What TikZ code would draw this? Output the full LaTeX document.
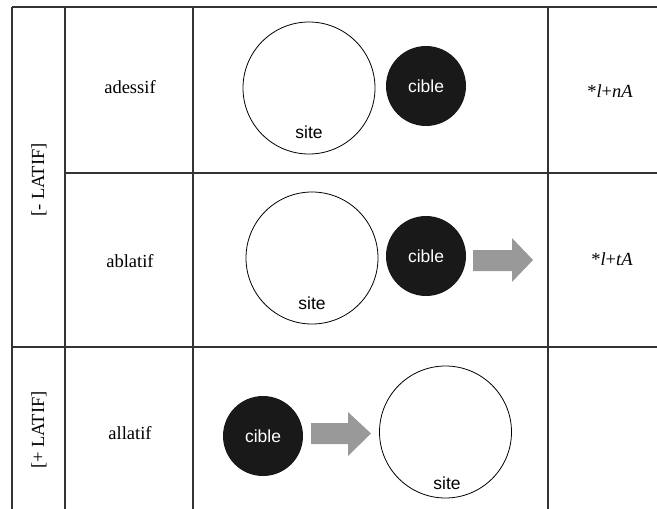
\documentclass[tikz,border=0pt]{standalone}
\usepackage{fontspec}
\setmainfont{Liberation Serif}
\newfontfamily\circfont{Liberation Sans}
\begin{document}
\begin{tikzpicture}[x=1pt,y=-1pt,
  grid/.style={draw=black!80,line width=1.1pt},
  sitecirc/.style={circle,draw=black,line width=0.8pt,fill=white,minimum size=132pt,inner sep=0pt},
  ciblecirc/.style={circle,fill=black!90,minimum size=80pt,inner sep=0pt,text=white,font=\circfont\fontsize{17.5}{20}\selectfont},
  sitelab/.style={font=\circfont\fontsize{17.5}{20}\selectfont,inner sep=0pt},
  rowlab/.style={font=\fontsize{18.5}{22}\selectfont,inner sep=0pt},
  grouplab/.style={font=\fontsize{18.5}{22}\selectfont,inner sep=0pt,rotate=90},
  arrowshape/.style={fill=black!40}
]
\useasboundingbox (0,0) rectangle (657,509);
% table
\draw[grid] (12,7) -- (657,7);
\draw[grid] (12,7) -- (12,509);
\draw[grid] (65,7) -- (65,509);
\draw[grid] (193,7) -- (193,509);
\draw[grid] (548,7) -- (548,509);
\draw[grid] (65,173) -- (657,173);
\draw[grid] (12,347) -- (657,347);
% labels
\node[grouplab] (g1) at (39,180) {[- LATIF]};
\node[grouplab] (g2) at (39,430) {[+ LATIF]};
\node[rowlab] (r1) at (130,87) {adessif};
\node[rowlab] (r2) at (130,261) {ablatif};
\node[rowlab] (r3) at (130,433) {allatif};
\node[rowlab] (f1) at (610,91) {*\textit{l}+\textit{nA}};
\node[rowlab] (f2) at (612,259) {*\textit{l}+\textit{tA}};
% adessif
\node[sitecirc] (s1) at (309,88) {};
\node[sitelab] (s1t) at (309,132) {site};
\node[ciblecirc] (c1) at (426,86) {cible};
% ablatif
\node[sitecirc] (s2) at (312,258) {};
\node[sitelab] (s2t) at (312,303) {site};
\node[ciblecirc] (c2) at (426,256) {cible};
\fill[arrowshape] (473,250) -- (512,250) -- (512,238) -- (533,260) -- (512,282) -- (512,271) -- (473,271) -- cycle;
% allatif
\node[ciblecirc] (c3) at (263,436) {cible};
\node[sitecirc] (s3) at (445.5,432) {};
\node[sitelab] (s3t) at (447,483) {site};
\fill[arrowshape] (311,423) -- (348,423) -- (348,412) -- (371,433.5) -- (348,456) -- (348,444) -- (311,444) -- cycle;
\end{tikzpicture}
\end{document}
